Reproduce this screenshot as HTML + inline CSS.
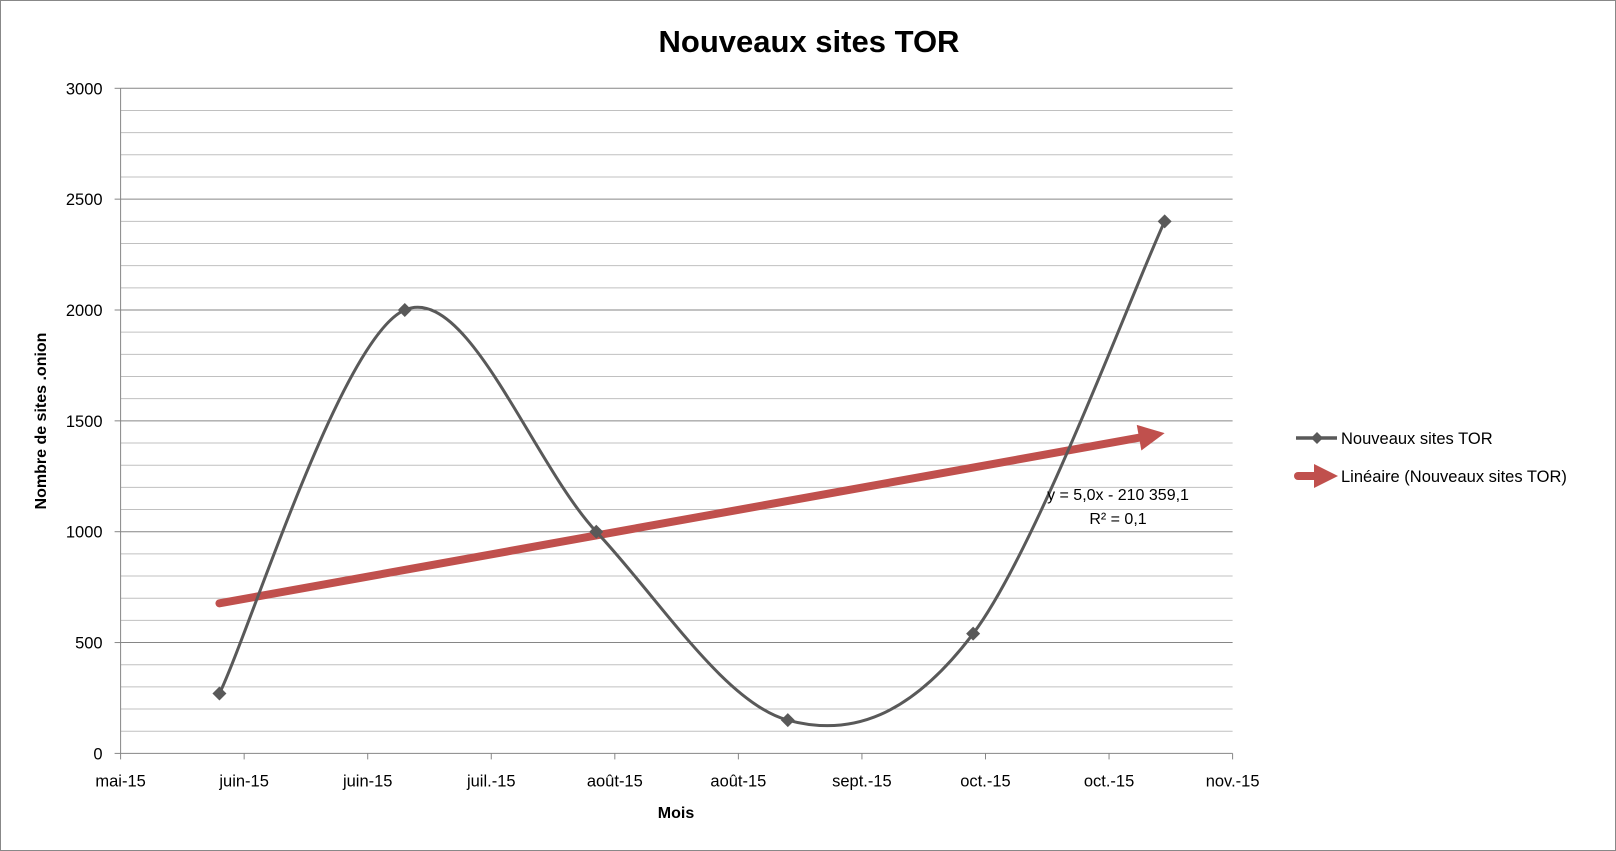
<!DOCTYPE html>
<html><head><meta charset="utf-8"><style>
html,body{margin:0;padding:0;background:#fff;}
svg{display:block;font-family:"Liberation Sans",sans-serif;}
</style></head><body>
<svg id="chart" width="1616" height="851">
<rect x="0.5" y="0.5" width="1615" height="850" fill="#fff" stroke="#888" stroke-width="1"/>
<text x="809" y="52" text-anchor="middle" font-size="31" font-weight="bold" fill="#000">Nouveaux sites TOR</text>
<g id="grid"></g>
<g id="yaxis"></g>
<g id="xaxis"></g>
<g id="series"></g>
<text transform="translate(46,421) rotate(-90)" text-anchor="middle" font-size="16" font-weight="bold">Nombre de sites .onion</text>
<text x="676" y="818" text-anchor="middle" font-size="16" font-weight="bold">Mois</text>
<text x="1118" y="500" text-anchor="middle" font-size="16">y = 5,0x - 210 359,1</text>
<text x="1118" y="524" text-anchor="middle" font-size="16">R² = 0,1</text>
<g>
<g>
<line x1="1296" y1="438" x2="1337" y2="438" stroke="#595959" stroke-width="3.5"/>
<path d="M1317 432 L1323 438 L1317 444 L1311 438Z" fill="#595959"/>
<text x="1341" y="444" font-size="16.5">Nouveaux sites TOR</text>
</g>
<g>
<line x1="1298" y1="476" x2="1318" y2="476" stroke="#c0504d" stroke-width="8" stroke-linecap="round"/>
<path d="M1314 464 L1338 476 L1314 488Z" fill="#c0504d"/>
<text x="1341" y="482" font-size="16.5">Linéaire (Nouveaux sites TOR)</text>
</g>
</g>
</svg>
<script>
const xTickLabels = ["mai-15","juin-15","juin-15","juil.-15","août-15","août-15","sept.-15","oct.-15","oct.-15","nov.-15"];
const yTickLabels = ["0","500","1000","1500","2000","2500","3000"];
const dayIndex = [16,46,77,108,138,169];
const siteCounts = [270,2000,1000,150,540,2400];
const xMin = 0, xMax = 180, yMin = 0, yMax = 3000;

const L=120.6,R=1232.6,T=88.3,B=753.4;
const NS="http://www.w3.org/2000/svg";
const sx=v=>L+(v-xMin)/(xMax-xMin)*(R-L);
const sy=v=>B-(v-yMin)/(yMax-yMin)*(B-T);
function mk(tag,attrs,parent){const e=document.createElementNS(NS,tag);for(const k in attrs)e.setAttribute(k,attrs[k]);parent.appendChild(e);return e;}

const grid=document.getElementById('grid');
for(let v=100;v<=yMax;v+=100){
  const major=v%500===0;
  const ln=mk('line',{x1:L,x2:R,y1:sy(v),y2:sy(v),stroke:major?'#868686':'#c0c0c0','stroke-width':1},grid);
  
  
}
const ya=document.getElementById('yaxis');
mk('line',{x1:L,x2:L,y1:T,y2:B,stroke:'#868686'},ya);
yTickLabels.forEach((t,i)=>{
  const v=yMin+i*(yMax-yMin)/(yTickLabels.length-1);
  mk('line',{x1:L-6,x2:L,y1:sy(v),y2:sy(v),stroke:'#868686'},ya);
  const tx=mk('text',{x:L-18,y:sy(v)+6,'text-anchor':'end','font-size':16.5},ya);
  tx.textContent=t;
  
  
});
const xa=document.getElementById('xaxis');
mk('line',{x1:L,x2:R,y1:B,y2:B,stroke:'#868686'},xa);
xTickLabels.forEach((t,i)=>{
  const v=xMin+i*(xMax-xMin)/(xTickLabels.length-1);
  mk('line',{x1:sx(v),x2:sx(v),y1:B,y2:B+6,stroke:'#868686'},xa);
  const tx=mk('text',{x:sx(v),y:B+33,'text-anchor':'middle','font-size':16.5},xa);
  tx.textContent=t;
  
  
});

const sg=document.getElementById('series');
// trendline (least squares)
const n=dayIndex.length;
const mx=dayIndex.reduce((a,b)=>a+b,0)/n, my=siteCounts.reduce((a,b)=>a+b,0)/n;
let num=0,den=0;for(let i=0;i<n;i++){num+=(dayIndex[i]-mx)*(siteCounts[i]-my);den+=(dayIndex[i]-mx)**2;}
const slope=num/den, icpt=my-slope*mx;
const x0=dayIndex[0], x1=dayIndex[n-1];
const px0=sx(x0),py0=sy(icpt+slope*x0),px1=sx(x1),py1=sy(icpt+slope*x1);
const ang=Math.atan2(py1-py0,px1-px0);
const hl=26,hw=13;
const bx=px1-hl*Math.cos(ang),by=py1-hl*Math.sin(ang);
const tl=mk('line',{x1:px0,y1:py0,x2:bx,y2:by,stroke:'#c0504d','stroke-width':8,'stroke-linecap':'round'},sg);


const ah=mk('path',{d:`M${px1} ${py1} L${bx+hw*Math.sin(ang)} ${by-hw*Math.cos(ang)} L${bx-hw*Math.sin(ang)} ${by+hw*Math.cos(ang)}Z`,fill:'#c0504d'},sg);



// smoothed series
const P=dayIndex.map((d,i)=>[sx(d),sy(siteCounts[i])]);
let d=`M${P[0][0]} ${P[0][1]}`;
for(let i=0;i<n-1;i++){
  const p0=P[Math.max(0,i-1)],p1=P[i],p2=P[i+1],p3=P[Math.min(n-1,i+2)];
  const c1=[p1[0]+(p2[0]-p0[0])/6,p1[1]+(p2[1]-p0[1])/6];
  const c2=[p2[0]-(p3[0]-p1[0])/6,p2[1]-(p3[1]-p1[1])/6];
  d+=` C${c1[0]} ${c1[1]} ${c2[0]} ${c2[1]} ${p2[0]} ${p2[1]}`;
}
const sl=mk('path',{d:d,fill:'none',stroke:'#595959','stroke-width':3},sg);


P.forEach(p=>{
  const m=mk('path',{d:`M${p[0]} ${p[1]-7} L${p[0]+7} ${p[1]} L${p[0]} ${p[1]+7} L${p[0]-7} ${p[1]}Z`,fill:'#595959'},sg);
  
  
});
</script>
</body></html>
